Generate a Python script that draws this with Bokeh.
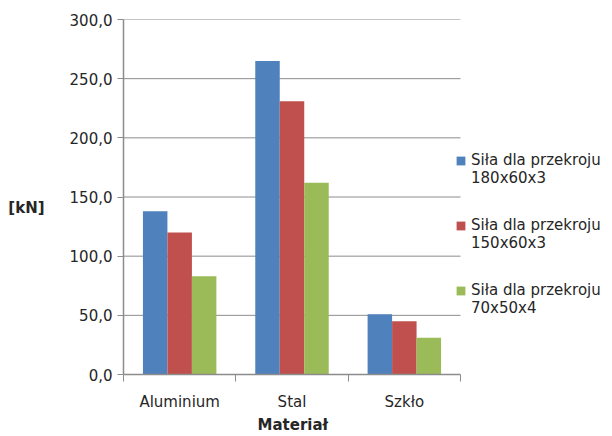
from bokeh.plotting import figure
from bokeh.models import ColumnDataSource, FixedTicker, Legend, LegendItem, Range1d, Title
from bokeh.embed import file_html
from bokeh.resources import INLINE
import numpy as np

categories = ["Aluminium", "Stal", "Szkło"]
series_label = "Siła dla przekroju"
series_sizes = ["180x60x3", "150x60x3", "70x50x4"]
s180x60x3 = [138, 265, 51]
s150x60x3 = [120, 231, 45]
s70x50x4 = [83, 162, 31]
y_ticks = [0, 50, 100, 150, 200, 250, 300]
y_tick_labels = ["0,0", "50,0", "100,0", "150,0", "200,0", "250,0", "300,0"]
colors = ["#4F81BD", "#C0504D", "#9BBB59"]

FONT = "DejaVu Sans"
TXT = "#262626"
GRID = "#8c8c8c"

W, H = 612, 436
LEFT, RIGHT_PLOT, TOP, BOTTOM = 123, 460, 19, 62
ncat = len(categories)
x_end = ncat * (W - LEFT) / (RIGHT_PLOT - LEFT)

p = figure(width=W, height=H, output_backend="svg", toolbar_location=None,
           x_range=Range1d(0, x_end), y_range=Range1d(0, 300),
           min_border_left=LEFT, min_border_right=0, min_border_top=TOP, min_border_bottom=BOTTOM)
p.outline_line_color = None
p.background_fill_color = "white"
p.border_fill_color = "white"

# horizontal gridlines limited to the category area
p.segment(x0=[0] * (len(y_ticks) - 1), x1=[ncat] * (len(y_ticks) - 1),
          y0=y_ticks[1:], y1=y_ticks[1:], line_color=GRID, line_width=1)

centers = np.arange(ncat) + 0.5
bw = 0.218
offsets = [-bw, 0.0, bw]
items = []
for vals, off, col, size in zip([s180x60x3, s150x60x3, s70x50x4], offsets, colors, series_sizes):
    src = ColumnDataSource(dict(x=centers + off, top=vals))
    r = p.vbar(x="x", top="top", width=bw, bottom=0, source=src, fill_color=col, line_color=None)
    items.append(LegendItem(label="\u00a0\n" + series_label + "\n" + size, renderers=[r]))

# y axis
yax = p.yaxis[0]
yax.ticker = FixedTicker(ticks=y_ticks, minor_ticks=[])
yax.major_label_overrides = {t: l for t, l in zip(y_ticks, y_tick_labels)}
yax.major_label_text_font = FONT
yax.major_label_text_font_size = "15px"
yax.major_label_text_color = TXT
yax.major_tick_out = 6
yax.major_tick_in = 0
yax.major_tick_line_color = GRID
yax.axis_line_color = GRID
yax.axis_line_width = 1.5
yax.major_label_standoff = 5
yax.axis_label_text_font = FONT
yax.axis_label_text_font_size = "15px"
yax.axis_label_text_font_style = "bold"
yax.axis_label_text_color = TXT
if "axis_label_orientation" in yax.properties():
    yax.axis_label = "\u00a0\n[kN]"
    yax.axis_label_orientation = "horizontal"
    yax.axis_label_standoff = 22
else:
    yax.axis_label = "[kN]"
    yax.axis_label_standoff = 20

# x axis
xax = p.xaxis[0]
xax.bounds = (0, ncat)
xax.ticker = FixedTicker(ticks=list(centers), minor_ticks=list(range(ncat + 1)))
xax.major_label_overrides = {float(c): n for c, n in zip(centers, categories)}
xax.major_label_text_font = FONT
xax.major_label_text_font_size = "15px"
xax.major_label_text_color = TXT
xax.major_tick_out = 0
xax.major_tick_in = 0
xax.minor_tick_out = 7
xax.minor_tick_in = 0
xax.minor_tick_line_color = GRID
xax.axis_line_color = GRID
xax.axis_line_width = 1.5
xax.major_label_standoff = 11

xtitle = Title(text="Materiał", align="left", offset=134, standoff=0,
               text_font=FONT, text_font_size="15px", text_font_style="bold", text_color=TXT)
p.add_layout(xtitle, "below")

p.xgrid.grid_line_color = None
p.ygrid.grid_line_color = None

legend = Legend(items=items, location=(332, 57), padding=0, margin=0,
                glyph_width=11, glyph_height=11, label_standoff=5,
                label_text_font=FONT, label_text_font_size="15px", label_text_color=TXT,
                border_line_color=None, background_fill_alpha=0)
legend.spacing = 11
p.add_layout(legend, "center")

open("out.html", "w").write(file_html(p, INLINE))
